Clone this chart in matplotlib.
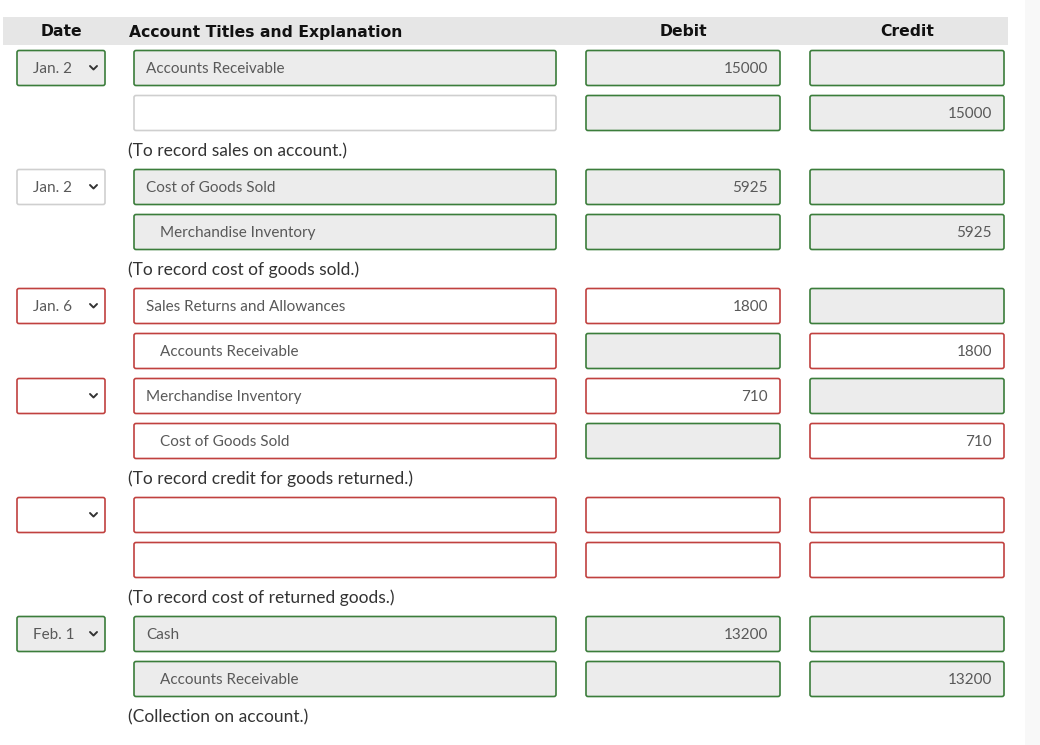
import matplotlib
matplotlib.use("Agg")
import matplotlib.pyplot as plt
from matplotlib.patches import FancyBboxPatch, Rectangle

# Journal entry data
dates = ["Jan. 2", None, "Jan. 2", None, "Jan. 6", None, "", None, "", None, "Feb. 1", None]
accounts = ["Accounts Receivable", "", "Cost of Goods Sold", "Merchandise Inventory",
            "Sales Returns and Allowances", "Accounts Receivable", "Merchandise Inventory",
            "Cost of Goods Sold", "", "", "Cash", "Accounts Receivable"]
indent = [0, 1, 0, 1, 0, 1, 0, 1, 0, 1, 0, 1]
debits = ["15000", "", "5925", "", "1800", "", "710", "", "", "", "13200", ""]
credits = ["", "15000", "", "5925", "", "1800", "", "710", "", "", "", "13200"]

# g = correct (grey fill, green border), r = wrong (red border), n = neutral
date_state = ["g", None, "n", None, "r", None, "r", None, "r", None, "g", None]
acct_state = ["g", "n", "g", "g", "r", "r", "r", "r", "r", "r", "g", "g"]
debit_state = ["g", "g", "g", "g", "r", "g", "r", "g", "r", "r", "g", "g"]
credit_state = ["g", "g", "g", "g", "g", "r", "g", "r", "r", "r", "g", "g"]

explanations = {1: "(To record sales on account.)",
                3: "(To record cost of goods sold.)",
                7: "(To record credit for goods returned.)",
                9: "(To record cost of returned goods.)",
                11: "(Collection on account.)"}

headers = ["Date", "Account Titles and Explanation", "Debit", "Credit"]

STYLE = {"g": ("#ececec", "#3b7d3b"),
         "r": ("#ffffff", "#c0413f"),
         "n": ("#ffffff", "#cfcfcf")}
FONT = ["Lato", "DejaVu Sans"]
HFONT = ["DejaVu Sans"]

fig = plt.figure(figsize=(10.4, 7.45), dpi=100)
ax = fig.add_axes([0, 0, 1, 1])
ax.set_xlim(0, 1040)
ax.set_ylim(745, 0)
ax.axis("off")


def box(x0, x1, yc, state, h=35):
    fc, ec = STYLE[state]
    ax.add_patch(FancyBboxPatch((x0, yc - h / 2), x1 - x0, h,
                                boxstyle="round,pad=0,rounding_size=2",
                                fc=fc, ec=ec, lw=1.2))


# right-hand strip and header band
ax.add_patch(Rectangle((1025, 0), 15, 745, fc="#f8f8f8", ec="none"))
ax.add_patch(Rectangle((3, 17), 1005, 28, fc="#e6e6e6", ec="none"))
hy = 32
hkw = dict(va="center", fontsize=11.25, fontweight="bold", family=HFONT, color="#111111")
ax.text(61, hy, headers[0], ha="center", **hkw)
ax.text(129, hy, headers[1], ha="left", **hkw)
ax.text(683, hy, headers[2], ha="center", **hkw)
ax.text(907, hy, headers[3], ha="center", **hkw)

fkw = dict(va="center", fontsize=11, family=FONT, color="#595959")
yc = 68
for i in range(len(accounts)):
    # date dropdown
    if dates[i] is not None:
        box(17, 105, yc, date_state[i])
        ax.text(33, yc + 1, dates[i], ha="left", **fkw)
        ax.plot([90, 93.5, 97], [yc - 2, yc + 1.5, yc - 2], color="#333333",
                lw=1.4, solid_capstyle="round")
    # account title
    box(134, 556, yc, acct_state[i])
    ax.text(160 if indent[i] else 146, yc + 1, accounts[i], ha="left", **fkw)
    # debit / credit
    box(586, 780, yc, debit_state[i])
    ax.text(768, yc + 1, debits[i], ha="right", **fkw)
    box(810, 1004, yc, credit_state[i])
    ax.text(992, yc + 1, credits[i], ha="right", **fkw)

    if i in explanations:
        ax.text(128, yc + 38, explanations[i], ha="left", va="center",
                fontsize=12.5, family=FONT, color="#333333")
        yc += 74
    else:
        yc += 45

fig.savefig("out.png", dpi=100)
